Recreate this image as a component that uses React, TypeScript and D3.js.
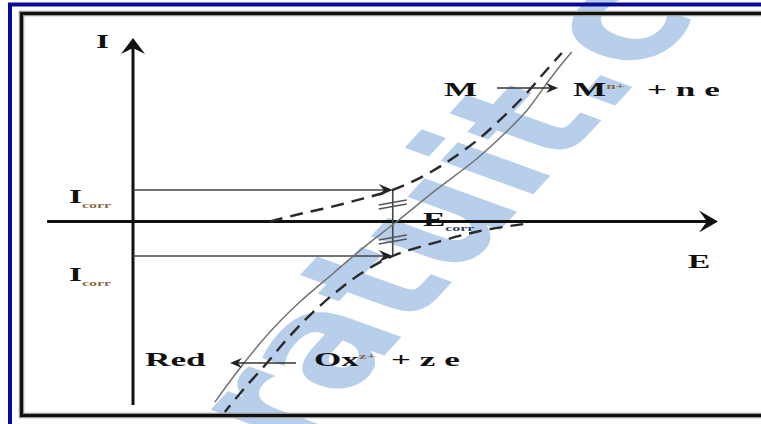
import React from "react";
import * as d3 from "d3";

const W = 761;
const H = 424;

// Evans diagram: potential E (x) against current I (y), arbitrary units.
// Oxidation branch M -> M^n+ + n e (dashed, upper)
const anodicBranch: [number, number][] = [
  [23.4, 0], [28.5, 4.1], [33.8, 7.9], [39.1, 12.3], [44.4, 17.2],
  [49.4, 24.3], [54.2, 33.5], [59.3, 45.5], [63.6, 58.0], [67.0, 68.9],
  [70.4, 81.5], [73.3, 91.8],
];
// Reduction branch Ox^z+ + z e -> Red (dashed, lower)
const cathodicBranch: [number, number][] = [
  [66.7, -1.4], [59.3, -5.2], [52.0, -11.2], [44.4, -18.8], [39.1, -28.1],
  [34.5, -39.0], [30.3, -50.9], [26.5, -63.5], [22.6, -78.2], [18.8, -91.8],
  [15.7, -103.8],
];
// Measured (net) polarisation curve (solid)
const netCurve: [number, number][] = [
  [14.0, -98.4], [18.3, -79.8], [23.4, -60.2], [28.5, -43.9], [34.5, -27.5],
  [39.7, -13.4], [45.1, 0], [51.8, 17.2], [58.5, 33.5], [63.6, 48.2],
  [67.4, 60.8], [70.4, 73.8], [73.0, 84.7], [75.0, 92.4],
];

const E_CORR = 44.4;
const I_CORR_ANODIC = 17.2;
const I_CORR_CATHODIC = -18.8;
const E_AXIS: [number, number] = [-14.7, 100];
const I_AXIS: [number, number] = [-100, 100];

const x = d3.scaleLinear().domain([0, 100]).range([133, 718]);
const y = d3.scaleLinear().domain([-100, 100]).range([405, 38]);

const line = d3
  .line<[number, number]>()
  .x((d) => x(d[0]))
  .y((d) => y(d[1]))
  .curve(d3.curveCatmullRom.alpha(0.5));

const SX = 1.85; // horizontal stretch of the lettering
const serif = "'Liberation Serif', 'Times New Roman', serif";
const scriptColor = "#8a6a42";

type Part = { t: string; s?: "sub" | "sup"; c?: string };

function Label({
  x0, y0, parts, size = 19,
}: { x0: number; y0: number; parts: Part[]; size?: number }) {
  return (
    <text
      transform={`translate(${x0},${y0}) scale(${SX},1)`}
      fontFamily={serif}
      fontWeight="bold"
      fontSize={size}
      fill="#111"
      style={{ whiteSpace: "pre" }}
    >
      {parts.map((p, i) => {
        const prev = i > 0 ? parts[i - 1].s : undefined;
        let dy = 0;
        if (p.s === "sub") dy = size * 0.28;
        if (p.s === "sup") dy = -size * 0.35;
        if (prev === "sub") dy -= size * 0.28;
        if (prev === "sup") dy += size * 0.35;
        return (
          <tspan
            key={i}
            dy={dy}
            fontSize={p.s ? size * 0.48 : size}
            fill={p.c ?? (p.s ? scriptColor : "#111")}
          >
            {p.t}
          </tspan>
        );
      })}
    </text>
  );
}

function arrowHead(tx: number, ty: number, dir: number, len: number, half: number, notch: number, fill: string) {
  // dir: angle in radians the arrow points to
  const c = Math.cos(dir), s = Math.sin(dir);
  const p = (a: number, b: number) => [tx + a * c - b * s, ty + a * s + b * c];
  const pts = [p(0, 0), p(-len, -half), p(-len + notch, 0), p(-len, half)];
  return <path d={`M${pts.map((q) => q.join(",")).join("L")}Z`} fill={fill} />;
}

export default function App() {
  const x0 = x(0);
  const y0 = y(0);
  const xc = x(E_CORR);
  const ya = y(I_CORR_ANODIC);
  const yc = y(I_CORR_CATHODIC);
  const ticks = [ya + 14, yc - 17];

  return (
    <svg
      width={W}
      height={H}
      viewBox={`0 0 ${W} ${H}`}
      style={{ position: "fixed", left: 0, top: 0, background: "#fff" }}
    >
      <rect width={W} height={H} fill="#fff" />

      {/* watermark */}
      <g transform={`scale(1.6,1)`}>
        <text
          transform={`translate(${295 / 1.6},452) rotate(-60)`}
          fontFamily="'DejaVu Sans', sans-serif"
          fontWeight="bold"
          fontSize={122}
          fill="#b7cfea"
        >
          ratuit.co
        </text>
      </g>

      {/* frames */}
      <rect x={10} y={4.5} width={W + 20} height={H + 20} fill="none" stroke="#0a0a9a" strokeWidth={4} />
      <rect x={21.5} y={13.5} width={W + 20} height={402} fill="none" stroke="#9a9a9a" strokeWidth={5.5} />
      <rect x={21.5} y={13.5} width={W + 20} height={402} fill="none" stroke="#111" strokeWidth={3} />

      {/* axes */}
      <line x1={x(E_AXIS[0])} y1={y0} x2={x(E_AXIS[1]) - 6} y2={y0} stroke="#111" strokeWidth={3} />
      {arrowHead(x(E_AXIS[1]), y0, 0, 19, 11, 8, "#111")}
      <line x1={x0} y1={y(I_AXIS[0])} x2={x0} y2={y(I_AXIS[1]) + 6} stroke="#111" strokeWidth={3} />
      {arrowHead(x0, y(I_AXIS[1]), -Math.PI / 2, 16, 12, 6, "#111")}

      {/* I_corr projections */}
      <line x1={x0} y1={ya} x2={xc - 6} y2={ya} stroke="#444" strokeWidth={1.6} />
      {arrowHead(xc, ya, 0, 14, 6, 5, "#222")}
      <line x1={x0} y1={yc} x2={xc - 6} y2={yc} stroke="#444" strokeWidth={1.6} />
      {arrowHead(xc, yc, 0, 14, 6, 5, "#222")}
      <line x1={xc} y1={ya} x2={xc} y2={yc} stroke="#444" strokeWidth={1.6} />
      {ticks.map((t, i) => (
        <g key={i} stroke="#555" strokeWidth={1.4}>
          <line x1={xc - 14} y1={t + 1} x2={xc + 14} y2={t - 4} />
          <line x1={xc - 14} y1={t + 5} x2={xc + 14} y2={t} />
        </g>
      ))}

      {/* curves */}
      <path d={line(netCurve) ?? ""} fill="none" stroke="#727272" strokeWidth={1.5} />
      <path d={line(anodicBranch) ?? ""} fill="none" stroke="#2a2a2a" strokeWidth={2.4} strokeDasharray="13 8" />
      <path d={line(cathodicBranch) ?? ""} fill="none" stroke="#2a2a2a" strokeWidth={2.4} strokeDasharray="13 8" />

      {/* reaction arrows */}
      <line x1={497} y1={88} x2={552} y2={88} stroke="#333" strokeWidth={1.5} />
      {arrowHead(558, 88, 0, 12, 5, 4, "#222")}
      <line x1={296} y1={363} x2={236} y2={363} stroke="#333" strokeWidth={1.5} />
      {arrowHead(230, 363, Math.PI, 12, 5, 4, "#222")}

      {/* labels */}
      <Label x0={96} y0={48} parts={[{ t: "I" }]} size={18} />
      <Label x0={688} y0={268} parts={[{ t: "E" }]} size={18} />
      <Label x0={69} y0={203} parts={[{ t: "I" }, { t: "corr", s: "sub" }]} size={18} />
      <Label x0={69} y0={281} parts={[{ t: "I" }, { t: "corr", s: "sub" }]} size={18} />
      <Label x0={423} y0={226} parts={[{ t: "E" }, { t: "corr", s: "sub", c: "#2e3e58" }]} size={18} />
      <Label x0={444} y0={96} parts={[{ t: "M" }]} />
      <Label x0={573} y0={96} parts={[{ t: "M" }, { t: "n+", s: "sup" }]} />
      <Label x0={647} y0={96} parts={[{ t: "+ n e" }]} />
      <Label x0={145} y0={366} parts={[{ t: "Red" }]} />
      <Label x0={314} y0={366} parts={[{ t: "Ox" }, { t: "z+", s: "sup" }]} />
      <Label x0={391} y0={366} parts={[{ t: "+ z e" }]} />
    </svg>
  );
}
